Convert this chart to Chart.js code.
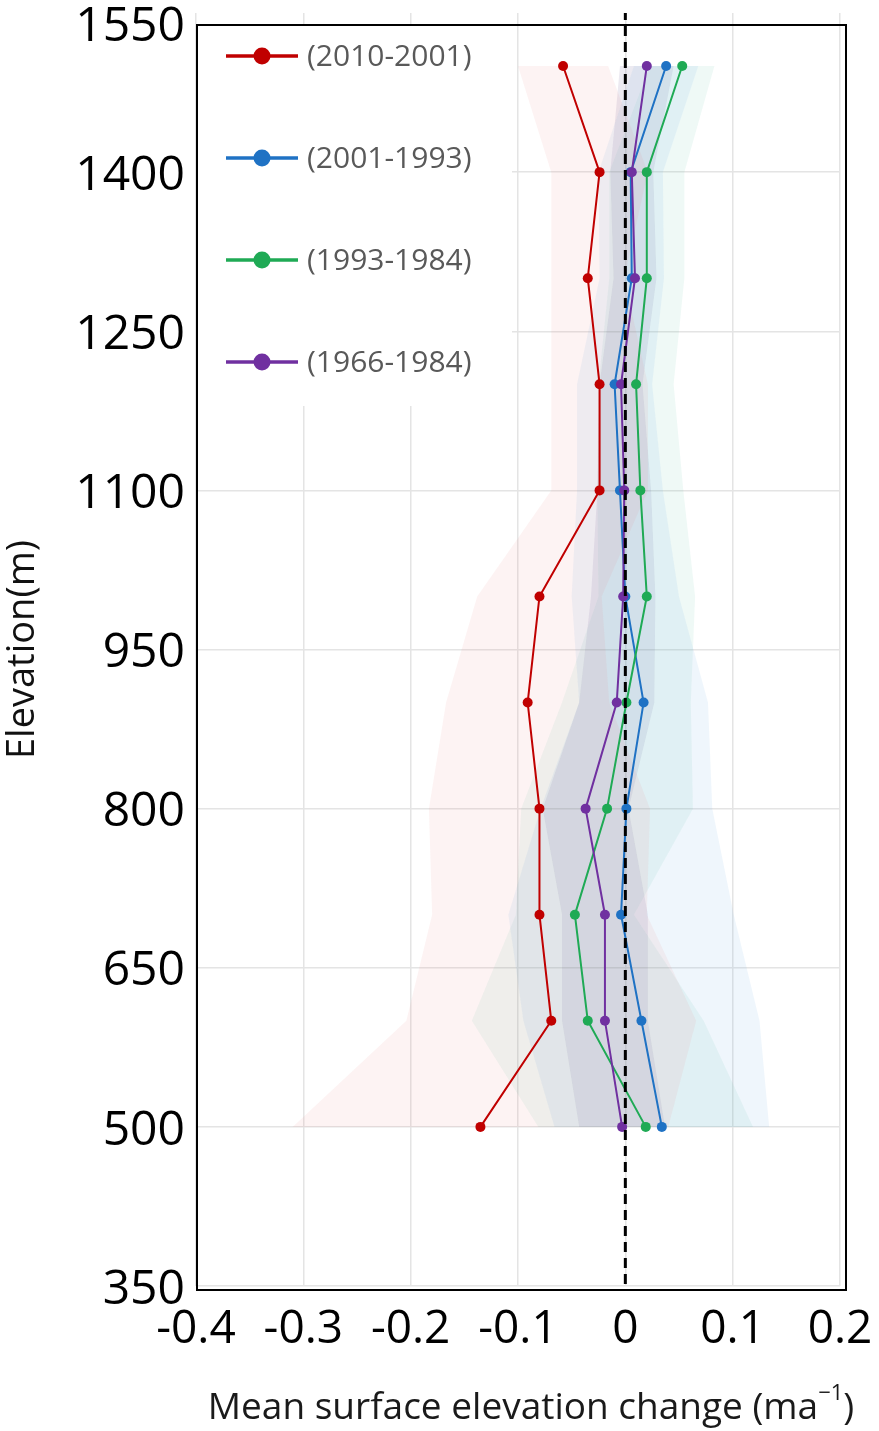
<!DOCTYPE html>
<html>
<head>
<meta charset="utf-8">
<script src="https://cdn.jsdelivr.net/npm/chart.js@4.4.1/dist/chart.umd.min.js"></script>
<style>
  html, body { margin: 0; padding: 0; background: #ffffff; }
  #wrap { width: 879px; height: 1431px; position: relative; }
</style>
</head>
<body>
<div id="wrap"><canvas id="profile" width="879" height="1431"></canvas></div>
<script>
// Elevation bands (m), bottom to top
const elevations = [500, 600, 700, 800, 900, 1000, 1100, 1200, 1300, 1400, 1500];

const seriesLabels = ['(2010-2001)', '(2001-1993)', '(1993-1984)', '(1966-1984)'];

// Mean surface elevation change per band (m a^-1)
const change2010_2001 = [-0.135, -0.069, -0.080, -0.080, -0.091, -0.080, -0.024, -0.024, -0.035, -0.024, -0.058];
const change2001_1993 = [0.034, 0.015, -0.004, 0.001, 0.017, 0.000, -0.005, -0.010, 0.006, 0.005, 0.038];
const change1993_1984 = [0.019, -0.035, -0.047, -0.017, 0.001, 0.020, 0.014, 0.010, 0.020, 0.020, 0.053];
const change1966_1984 = [-0.003, -0.019, -0.019, -0.037, -0.008, -0.002, -0.001, -0.004, 0.009, 0.006, 0.020];

// Uncertainty (± spread) per band
const spread2010_2001 = [0.175, 0.135, 0.100, 0.103, 0.076, 0.058, 0.045, 0.045, 0.034, 0.045, 0.042];
const spread2001_1993 = [0.100, 0.110, 0.105, 0.080, 0.060, 0.050, 0.040, 0.035, 0.030, 0.030, 0.030];
const spread1993_1984 = [0.100, 0.108, 0.055, 0.080, 0.060, 0.045, 0.040, 0.035, 0.035, 0.035, 0.030];
const spread1966_1984 = [0.040, 0.040, 0.040, 0.040, 0.035, 0.030, 0.025, 0.020, 0.020, 0.020, 0.025];

const xTicks = [-0.4, -0.3, -0.2, -0.1, 0, 0.1, 0.2];
const yTicks = [350, 500, 650, 800, 950, 1100, 1250, 1400, 1550];

const FONT = '"Open Sans", "Liberation Sans", sans-serif';

const series = [
  { label: seriesLabels[0], values: change2010_2001, spread: spread2010_2001, color: '#C00000', band: 'rgba(235,120,120,0.09)', order: 4 },
  { label: seriesLabels[1], values: change2001_1993, spread: spread2001_1993, color: '#1F72C4', band: 'rgba(110,175,225,0.11)', order: 3 },
  { label: seriesLabels[2], values: change1993_1984, spread: spread1993_1984, color: '#1FAA55', band: 'rgba(100,200,170,0.10)', order: 2 },
  { label: seriesLabels[3], values: change1966_1984, spread: spread1966_1984, color: '#7030A0', band: 'rgba(110,90,150,0.13)', order: 1 }
];

const toPoints = (xs) => elevations.map((e, i) => ({ x: xs[i], y: e }));

const datasets = [];

// dashed zero reference line
datasets.push({
  label: 'zero',
  data: [{ x: 0, y: 352 }, { x: 0, y: 1550 }],
  borderColor: '#000000',
  borderWidth: 3,
  borderDash: [10, 6],
  pointRadius: 0,
  fill: false,
  order: 0
});

// uncertainty bands (lower edge, then upper edge filled back to it)
series.forEach((s, k) => {
  const lower = s.values.map((v, i) => v - s.spread[i]);
  const upper = s.values.map((v, i) => v + s.spread[i]);
  datasets.push({
    label: 'band-lo-' + k,
    data: toPoints(lower),
    borderWidth: 0,
    borderColor: 'rgba(0,0,0,0)',
    pointRadius: 0,
    fill: false,
    order: 10 + k
  });
  datasets.push({
    label: 'band-hi-' + k,
    data: toPoints(upper),
    borderWidth: 0,
    borderColor: 'rgba(0,0,0,0)',
    backgroundColor: s.band,
    pointRadius: 0,
    fill: '-1',
    order: 10 + k
  });
});

// profile lines
series.forEach((s) => {
  datasets.push({
    label: s.label,
    data: toPoints(s.values),
    borderColor: s.color,
    backgroundColor: s.color,
    borderWidth: 2,
    pointRadius: 5,
    pointHoverRadius: 5,
    pointBorderWidth: 0,
    pointBackgroundColor: s.color,
    fill: false,
    isSeries: true,
    order: s.order
  });
});

// white legend panel in the upper-left corner of the plot
const cornerLegend = {
  id: 'cornerLegend',
  afterDatasetsDraw(chart) {
    const { ctx, chartArea: a } = chart;
    ctx.save();
    ctx.fillStyle = '#ffffff';
    ctx.fillRect(a.left + 1, a.top + 13, 315, 380);
    const items = chart.data.datasets.filter(d => d.isSeries);
    items.forEach((d, i) => {
      const y = a.top + 43 + i * 102;
      const x0 = a.left + 30;
      ctx.strokeStyle = d.borderColor;
      ctx.lineWidth = 3.5;
      ctx.beginPath();
      ctx.moveTo(x0, y);
      ctx.lineTo(x0 + 72, y);
      ctx.stroke();
      ctx.fillStyle = d.borderColor;
      ctx.beginPath();
      ctx.arc(x0 + 36, y, 8.5, 0, Math.PI * 2);
      ctx.fill();
      ctx.fillStyle = '#595959';
      ctx.font = '30px ' + FONT;
      ctx.textBaseline = 'middle';
      ctx.textAlign = 'left';
      ctx.fillText(d.label, x0 + 81, y + 1);
    });
    ctx.restore();
  }
};

// elevation tick labels, kept inside the canvas at the top
const elevationLabels = {
  id: 'elevationLabels',
  afterDraw(chart) {
    const { ctx } = chart;
    const ys = chart.scales.y;
    ctx.save();
    ctx.fillStyle = '#000000';
    ctx.font = '48px ' + FONT;
    ctx.textAlign = 'right';
    ctx.textBaseline = 'middle';
    yTicks.forEach((v) => {
      const y = Math.max(ys.getPixelForValue(v) + 4, 27);
      ctx.fillText(String(v), ys.right - 11, y);
    });
    ctx.restore();
  }
};

// plot frame and x-axis title
const frameAndTitle = {
  id: 'frameAndTitle',
  afterDraw(chart) {
    const { ctx, chartArea: a } = chart;
    ctx.save();
    ctx.strokeStyle = '#000000';
    ctx.lineWidth = 2;
    ctx.strokeRect(a.left + 1, a.top + 12, (a.right + 6) - (a.left + 1), (a.bottom + 4) - (a.top + 12));

    // x-axis title with superscript exponent
    const main = 'Mean surface elevation change (ma';
    const sup = '\u22121';
    const tail = ')';
    const big = '37px ' + FONT;
    const small = '22px ' + FONT;
    ctx.font = big;
    const wMain = ctx.measureText(main).width;
    const wTail = ctx.measureText(tail).width;
    ctx.font = small;
    const wSup = ctx.measureText(sup).width;
    const total = wMain + wSup + wTail;
    const cx = a.left + 335;
    const y = 1408;
    let x = cx - total / 2;
    ctx.fillStyle = '#1a1a1a';
    ctx.textBaseline = 'middle';
    ctx.textAlign = 'left';
    ctx.font = big;
    ctx.fillText(main, x, y);
    x += wMain;
    ctx.font = small;
    ctx.fillText(sup, x, y - 14);
    x += wSup;
    ctx.font = big;
    ctx.fillText(tail, x, y);
    ctx.restore();
  }
};

new Chart(document.getElementById('profile'), {
  type: 'line',
  data: { datasets },
  options: {
    responsive: false,
    animation: false,
    devicePixelRatio: 1,
    indexAxis: 'y',
    layout: { padding: { top: 13, right: 39, left: 0, bottom: 0 } },
    plugins: {
      legend: { display: false },
      tooltip: { enabled: false },
      filler: { drawTime: 'beforeDatasetsDraw', propagate: false }
    },
    scales: {
      x: {
        type: 'linear',
        position: 'bottom',
        min: -0.4,
        max: 0.2,
        afterBuildTicks: (s) => { s.ticks = xTicks.map(v => ({ value: v })); },
        afterFit: (s) => { s.height = 145; s.paddingLeft = 0; s.paddingRight = 0; },
        grid: { color: '#e4e4e4', lineWidth: 1.5, drawTicks: false },
        border: { display: false },
        ticks: {
          padding: 16,
          color: '#000000',
          font: { family: FONT, size: 46 },
          maxRotation: 0,
          autoSkip: false,
          callback: (v) => String(+Number(v).toFixed(1))
        }
      },
      y: {
        type: 'linear',
        position: 'left',
        min: 350,
        max: 1550,
        afterBuildTicks: (s) => { s.ticks = yTicks.map(v => ({ value: v })); },
        afterFit: (s) => { s.width = 196; s.paddingTop = 0; s.paddingBottom = 0; },
        grid: {
          color: (c) => (c.tick && c.tick.value === 1550) ? 'rgba(0,0,0,0)' : '#e4e4e4',
          lineWidth: 1.5,
          drawTicks: false
        },
        border: { display: false },
        title: {
          display: true,
          text: 'Elevation(m)',
          color: '#111111',
          font: { family: FONT, size: 38 },
          padding: 0
        },
        ticks: { display: false }
      }
    }
  },
  plugins: [cornerLegend, elevationLabels, frameAndTitle]
});
</script>
</body>
</html>
